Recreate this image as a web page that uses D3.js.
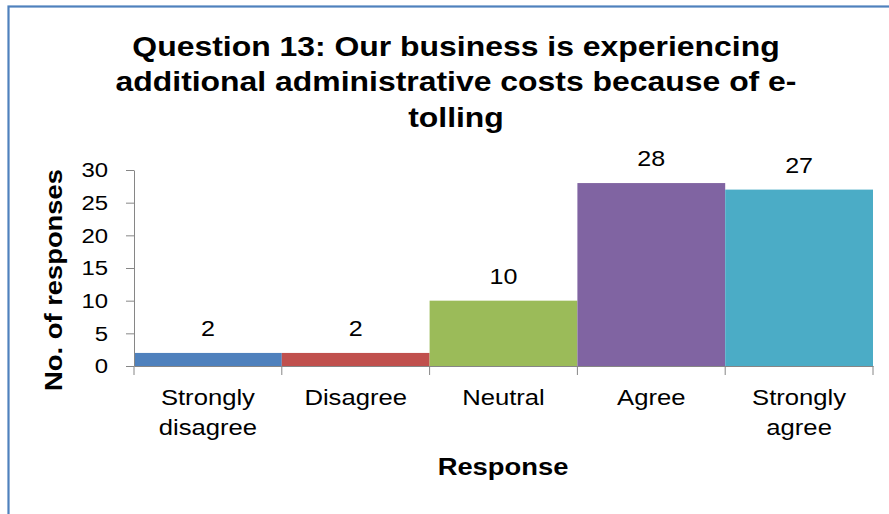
<!DOCTYPE html>
<html>
<head>
<meta charset="utf-8">
<script src="https://cdn.jsdelivr.net/npm/d3@7"></script>
<style>
  html, body { margin: 0; padding: 0; background: #fff; }
  svg { display: block; font-family: "Liberation Sans", Arial, sans-serif; }
</style>
</head>
<body>
<svg id="chart" width="889" height="514"></svg>
<script>
// Survey responses to question 13
const categories = ["Strongly disagree", "Disagree", "Neutral", "Agree", "Strongly agree"];
const categoryLines = [["Strongly", "disagree"], ["Disagree"], ["Neutral"], ["Agree"], ["Strongly", "agree"]];
const responses = [2, 2, 10, 28, 27];
const barColors = ["#4F81BD", "#C0504D", "#9BBB59", "#8064A2", "#4BACC6"];
const yTicks = [0, 5, 10, 15, 20, 25, 30];
const titleLines = ["Question 13: Our business is experiencing", "additional administrative costs because of e-", "tolling"];

// Text is set slightly wide, as in the original office-chart rendering
const WIDE = 1.14;

const svg = d3.select("#chart");

// Outer frame (runs past the right and bottom edges)
svg.append("rect")
  .attr("x", 8.5).attr("y", 6.5)
  .attr("width", 920).attr("height", 540)
  .attr("fill", "none")
  .attr("stroke", "#4F81BD")
  .attr("stroke-width", 2.2);

const plot = { left: 134, right: 873, top: 170, bottom: 366 };

const x = d3.scaleBand()
  .domain(categories)
  .range([plot.left, plot.right])
  .padding(0);

const y = d3.scaleLinear()
  .domain([0, 30])
  .range([plot.bottom, plot.top]);

// Title
svg.append("g")
  .attr("transform", `translate(456,0) scale(${WIDE},1)`)
  .append("text")
  .attr("text-anchor", "middle")
  .attr("font-weight", "bold")
  .attr("font-size", 28)
  .attr("fill", "#000")
  .selectAll("tspan")
  .data(titleLines)
  .join("tspan")
  .attr("x", 0)
  .attr("y", (d, i) => 56 + i * 35.5)
  .text(d => d);

// Bars
svg.append("g")
  .selectAll("rect")
  .data(responses)
  .join("rect")
  .attr("x", (d, i) => x(categories[i]))
  .attr("y", d => y(d))
  .attr("width", x.bandwidth())
  .attr("height", d => y(0) - y(d))
  .attr("fill", (d, i) => barColors[i]);

// Value labels
svg.append("g")
  .selectAll("g")
  .data(responses)
  .join("g")
  .attr("transform", (d, i) => `translate(${x(categories[i]) + x.bandwidth() / 2},${y(d) - 17}) scale(${WIDE},1)`)
  .append("text")
  .attr("text-anchor", "middle")
  .attr("font-size", 22)
  .attr("fill", "#000")
  .text(d => d);

// Y axis
const yAxis = svg.append("g")
  .attr("transform", `translate(${plot.left},0)`)
  .call(d3.axisLeft(y).tickValues(yTicks).tickSize(8).tickSizeOuter(0).tickPadding(18));
yAxis.select(".domain").attr("stroke", "#868686");
yAxis.selectAll(".tick line").attr("stroke", "#868686");
yAxis.selectAll(".tick text")
  .attr("font-family", "'Liberation Sans', Arial, sans-serif")
  .attr("font-size", 21)
  .attr("fill", "#000")
  .attr("transform", function() {
    const tx = +d3.select(this).attr("x");
    return `translate(${tx},0) scale(${WIDE},1) translate(${-tx},0)`;
  });

// X axis: baseline and ticks at category boundaries
const xAxis = svg.append("g")
  .attr("transform", `translate(0,${plot.bottom})`)
  .call(d3.axisBottom(x).tickSize(0).tickSizeOuter(0).tickFormat(""));
xAxis.select(".domain").attr("stroke", "#868686");
xAxis.selectAll(".tick").remove();

const boundaries = categories.map(c => x(c)).concat([x(categories[categories.length - 1]) + x.bandwidth()]);
xAxis.selectAll("line.boundary")
  .data(boundaries)
  .join("line")
  .attr("class", "boundary")
  .attr("x1", d => d).attr("x2", d => d)
  .attr("y1", 0).attr("y2", 9)
  .attr("stroke", "#868686");

// Category labels
svg.append("g")
  .selectAll("g")
  .data(categories)
  .join("g")
  .attr("transform", c => `translate(${x(c) + x.bandwidth() / 2},0) scale(${WIDE},1)`)
  .append("text")
  .attr("text-anchor", "middle")
  .attr("font-size", 22.5)
  .attr("fill", "#000")
  .each(function(c, i) {
    d3.select(this).selectAll("tspan")
      .data(categoryLines[i])
      .join("tspan")
      .attr("x", 0)
      .attr("y", (d, j) => 405 + j * 30)
      .text(d => d);
  });

// Axis titles
svg.append("g")
  .attr("transform", `translate(503,475) scale(${WIDE},1)`)
  .append("text")
  .attr("text-anchor", "middle")
  .attr("font-weight", "bold")
  .attr("font-size", 24)
  .attr("fill", "#000")
  .text("Response");

svg.append("g")
  .attr("transform", `translate(62,280) rotate(-90) scale(${WIDE},1)`)
  .append("text")
  .attr("text-anchor", "middle")
  .attr("font-weight", "bold")
  .attr("font-size", 24)
  .attr("fill", "#000")
  .text("No. of responses");
</script>
</body>
</html>
